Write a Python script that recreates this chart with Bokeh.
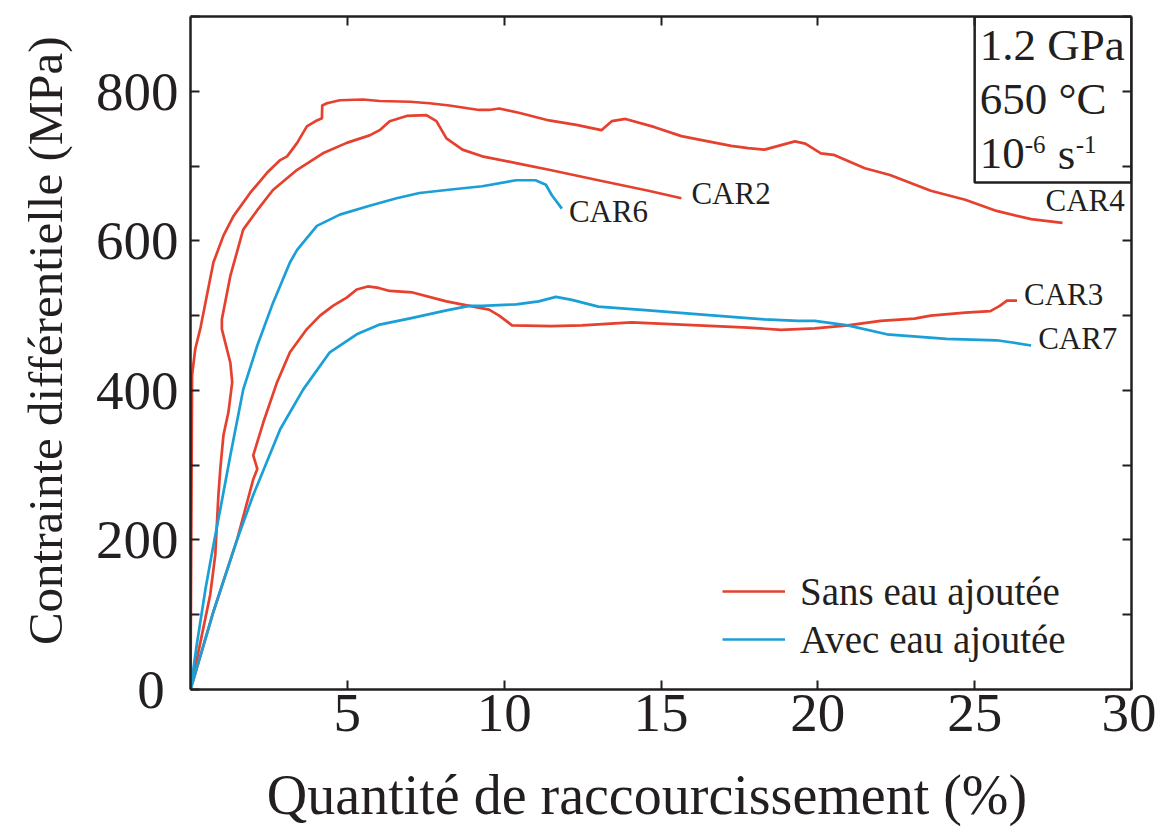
from bokeh.plotting import figure
from bokeh.models import (Range1d, LinearAxis, FixedTicker, Legend, LegendItem,
                          Label, BoxAnnotation)
from bokeh.embed import file_html
from bokeh.resources import INLINE

# ---------------- data ----------------
car4_x = [0, 0.05, 0.15, 0.32, 0.73, 1.05, 1.37, 1.9, 2.44, 2.86, 3.08, 3.4, 3.71, 4.03, 4.19, 4.2,
          4.35, 4.76, 5.5, 6.03, 7.0, 7.62, 8.25, 9.2, 9.52, 9.84, 10.5, 11.43, 12.3, 13.1, 13.43,
          13.87, 14.8, 15.65, 16.5, 17.24, 17.78, 18.3, 18.83, 19.27, 19.6, 20.1, 20.5, 21.5, 22.3,
          23.6, 24.7, 25.7, 26.8, 27.8]
car4_y = [0, 420, 455, 484, 571, 607, 633, 664, 691, 708, 713, 731, 753, 761, 764, 781,
          784, 788, 789, 787, 786, 784, 781, 775, 775, 777, 771, 761, 755, 748, 760,
          763, 752, 740, 733, 727, 724, 722, 728, 733, 730, 717, 715, 697, 688,
          667, 655, 640, 629, 624]

car2_x = [0, 0.3, 0.63, 0.79, 0.89, 0.95, 1.05, 1.21, 1.33, 1.27, 1.0, 1.0, 1.27, 1.68, 2.13, 2.63,
          3.4, 4.22, 4.98, 5.71, 6.03, 6.35, 6.89, 7.52, 7.84, 8.16, 8.67, 9.3, 10.38, 11.43,
          13.0, 14.6, 15.65]
car2_y = [0, 60, 127, 180, 260, 295, 340, 371, 411, 437, 482, 495, 553, 615, 641, 668,
          695, 717, 731, 741, 748, 760, 767, 768, 760, 737, 722, 713, 704, 695,
          681, 667, 657]

car6_x = [0, 0.2, 0.48, 0.73, 0.95, 1.27, 1.68, 2.13, 2.63, 3.17, 3.4, 4.03, 4.76, 5.71, 6.57,
          7.3, 8.16, 9.3, 10.38, 11.0, 11.33, 11.52, 11.84]
car6_y = [0, 60, 135, 193, 241, 313, 401, 460, 517, 571, 588, 620, 635, 647, 657,
          664, 668, 673, 681, 681, 675, 661, 643]

car3_x = [0, 0.73, 1.49, 2.0, 2.13, 2.0, 2.32, 2.76, 3.17, 3.71, 4.13, 4.54, 4.98, 5.3, 5.65,
          6.0, 6.35, 7.08, 8.16, 8.89, 9.52, 9.84, 10.25, 11.5, 12.48, 14.06, 15.65, 17.78,
          18.83, 19.9, 20.95, 22.0, 23.08, 23.6, 24.7, 25.5, 25.8, 26.03, 26.35]
car3_y = [0, 104, 201, 281, 295, 313, 357, 411, 451, 482, 500, 513, 524, 535, 539,
          537, 533, 531, 519, 513, 508, 500, 487, 486, 487, 491, 488, 484,
          481, 483, 487, 493, 496, 500, 504, 506, 513, 520, 520]

car7_x = [0, 0.73, 1.49, 2.0, 2.86, 3.59, 4.44, 5.3, 6.03, 7.08, 8.16, 8.89, 9.3, 10.38, 11.1,
          11.65, 12.16, 13.0, 14.6, 16.73, 18.3, 19.37, 19.9, 20.95, 22.2, 24.1, 25.7, 26.2, 26.8]
car7_y = [0, 104, 201, 260, 348, 401, 451, 475, 488, 497, 507, 513, 513, 515, 519,
          525, 521, 512, 507, 500, 495, 493, 493, 487, 475, 469, 467, 464, 460]

x_major = [5, 10, 15, 20, 25, 30]
x_end = 30
y_major = [0, 200, 400, 600, 800]
y_minor = [100, 300, 500, 700, 900]

legend_labels = ["Sans eau ajoutée", "Avec eau ajoutée"]
x_title = "Quantité de raccourcissement (%)"
y_title = "Contrainte différentielle (MPa)"

# ---------------- styles ----------------
FONT = "'Liberation Serif', 'Times New Roman', serif"
RED = "#e6402e"
BLUE = "#1a9fd6"
INK = "#231f20"
LW = 2.7
NBSP = "\u00a0"

p = figure(width=1156, height=828, x_range=Range1d(0, x_end), y_range=Range1d(0, 900),
           output_backend="svg", toolbar_location=None,
           x_axis_location=None, y_axis_location=None,
           min_border_left=190, min_border_right=25, min_border_top=16, min_border_bottom=139)
p.outline_line_color = None
p.xgrid.visible = False
p.ygrid.visible = False
p.background_fill_color = "white"
p.border_fill_color = "white"


def style_axis(ax, major, minor):
    ax.ticker = FixedTicker(ticks=major, minor_ticks=minor)
    ax.axis_line_width = 2.5
    ax.axis_line_color = INK
    for kind in ("major", "minor"):
        setattr(ax, kind + "_tick_in", 9)
        setattr(ax, kind + "_tick_out", 0)
        setattr(ax, kind + "_tick_line_width", 2)
        setattr(ax, kind + "_tick_line_color", INK)
    ax.major_label_text_font = FONT
    ax.major_label_text_color = INK
    ax.major_label_text_font_size = "55px"
    ax.axis_label_text_font = FONT
    ax.axis_label_text_font_style = "normal"
    ax.axis_label_text_color = INK


xb = LinearAxis()
style_axis(xb, x_major, [])
xb.major_label_standoff = 5
xb.axis_label = x_title + NBSP * 2
xb.axis_label_text_font_size = "56px"
xb.axis_label_standoff = 30
p.add_layout(xb, "below")

yl = LinearAxis()
style_axis(yl, y_major, y_minor)
yl.major_label_overrides = {0: "0" + NBSP}           # origin label set a little to the left
yl.major_label_standoff = 12
yl.axis_label = NBSP * 2 + y_title
yl.axis_label_text_font_size = "49px"
yl.axis_label_standoff = 20
p.add_layout(yl, "left")

# top and right frame: ticks only (drawn as minor ticks, so no labels)
xt = LinearAxis()
style_axis(xt, [], x_major[:-1])
p.add_layout(xt, "above")

yr = LinearAxis()
style_axis(yr, [], [t for t in sorted(y_major + y_minor) if t > 0])
p.add_layout(yr, "right")

# ---------------- curves ----------------
r4 = p.line(car4_x, car4_y, line_color=RED, line_width=LW, line_join="round")
r2 = p.line(car2_x, car2_y, line_color=RED, line_width=LW, line_join="round")
r3 = p.line(car3_x, car3_y, line_color=RED, line_width=LW, line_join="round")
r6 = p.line(car6_x, car6_y, line_color=BLUE, line_width=LW, line_join="round")
r7 = p.line(car7_x, car7_y, line_color=BLUE, line_width=LW, line_join="round")


def end_label(text, xs, ys, dx, dy, align="left"):
    p.add_layout(Label(x=xs[-1], y=ys[-1], text=text, x_offset=dx, y_offset=dy,
                       text_align=align, text_baseline="middle", text_font=FONT,
                       text_font_size="31px", text_color=INK))


end_label("CAR2", car2_x, car2_y, 10, 5)
end_label("CAR6", car6_x, car6_y, 7, -3)
end_label("CAR4", car4_x, car4_y, -17, 22)
end_label("CAR3", car3_x, car3_y, 7, 6)
end_label("CAR7", car7_x, car7_y, 7, 7)

# ---------------- legend ----------------
legend = Legend(items=[LegendItem(label=legend_labels[0], renderers=[r4]),
                       LegendItem(label=legend_labels[1], renderers=[r6])],
                location=(532, 26), orientation="vertical",
                glyph_width=63, glyph_height=48, label_height=48, label_standoff=15,
                spacing=0, padding=0, margin=0,
                border_line_color=None, background_fill_alpha=0,
                label_text_font=FONT, label_text_font_size="39px", label_text_color=INK)
p.add_layout(legend)

# ---------------- condition box ----------------
p.add_layout(BoxAnnotation(left=25.0, right=x_end, bottom=678, top=900,
                           fill_alpha=0, line_color=INK, line_alpha=1, line_width=2.5))


def box_text(text, dx, dy, size="45px"):
    p.add_layout(Label(x=25.0, y=900, text=text, x_offset=dx, y_offset=dy,
                       text_align="left", text_baseline="middle", text_font=FONT,
                       text_font_size=size, text_color=INK))


box_text("1.2 GPa", 5, -28)
box_text("650 °C", 5, -82)
box_text("10", 5, -137)
box_text("-6", 50, -128, "25px")
box_text("s", 83, -137)
box_text("-1", 101, -128, "25px")

open("out.html", "w").write(file_html(p, INLINE))
